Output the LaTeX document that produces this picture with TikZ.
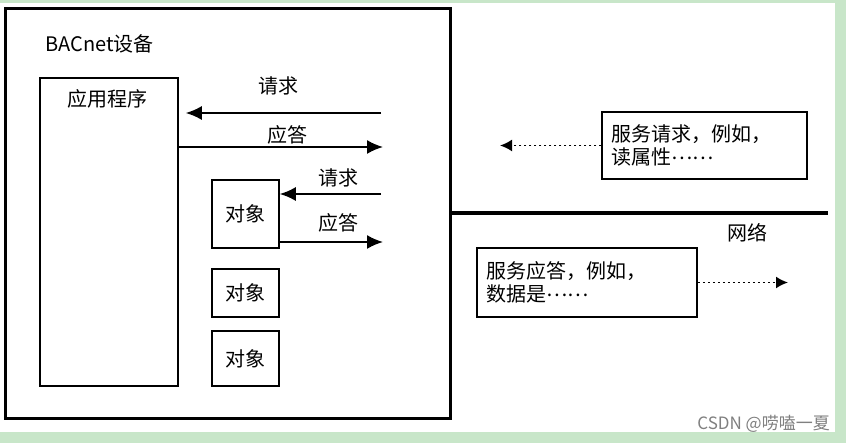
\documentclass[tikz,border=0pt]{standalone}
\usepackage{fontspec}
\setmainfont{Noto Sans CJK SC}
\usepackage{tikz}
\usetikzlibrary{shapes,arrows.meta,positioning}
\definecolor{bggreen}{RGB}{200,230,201}
\newcommand{\middots}{\smash{\raisebox{0.26em}{……}}}
\tikzstyle{devbox} = [draw, line width=3pt, inner sep=0pt]
\tikzstyle{box} = [draw, line width=1.5pt, inner sep=0pt, font=\fontsize{20}{24}\selectfont]
\tikzstyle{msgbox} = [draw, line width=1.5pt, inner sep=9pt, align=left, font=\fontsize{20}{23}\selectfont]
\tikzstyle{txt} = [inner sep=0pt, font=\fontsize{20}{24}\selectfont]
\tikzstyle{arr} = [draw, line width=1.8pt, -{Latex[length=16pt,width=14pt]}]
\tikzstyle{dotarr} = [draw, line width=1.8pt, dash pattern=on 2.5pt off 2.5pt, -{Latex[length=12pt,width=12pt]}]
\tikzstyle{net} = [draw, line width=4pt]

\begin{document}
\begin{tikzpicture}[x=1pt, y=-1pt]
	\fill [bggreen] (0,0) rectangle (846,443);
	\fill [white] (0,3) rectangle (835,432);
	\useasboundingbox (0,0) rectangle (846,443);

	\node [devbox, minimum width=444.5pt, minimum height=410pt] (device) at (227.75,213.5) {};
	\node [txt, anchor=west] (devname) at (45,44) {BACnet设备};
	\node [box, minimum width=138pt, minimum height=308pt] (app) at (109,232) {};
	\node [txt] (appname) at (107,99) {应用程序};
	\node [box, minimum width=67pt, minimum height=68pt] (obj1) at (245.5,214) {对象};
	\node [box, minimum width=67pt, minimum height=48pt] (obj2) at (245.5,293) {对象};
	\node [box, minimum width=67pt, minimum height=55pt] (obj3) at (245.5,358.5) {对象};

	\coordinate (req1) at (381,113);
	\coordinate (resp1) at (383,147);
	\coordinate (req2) at (381,194);
	\coordinate (resp2) at (383,242);
	\node [txt] (req1lbl) at (278,86) {请求};
	\node [txt] (resp1lbl) at (287,135) {应答};
	\node [txt] (req2lbl) at (338,178) {请求};
	\node [txt] (resp2lbl) at (338,223) {应答};

	\path [arr, shorten >=7pt] (req1) -- (req1 -| app.east);
	\path [arr] (resp1 -| app.east) -- (resp1);
	\path [arr] (req2) -- (req2 -| obj1.east);
	\path [arr] (resp2 -| obj1.east) -- (resp2);

	\coordinate (netend) at (828,213.5);
	\path [net] (device.east) -- (netend);
	\node [txt] (netlbl) at (747,233) {网络};

	\node [msgbox, text width=187pt, minimum height=67pt] (reqbox) at (704.5,145.5) {服务请求，例如，\\读属性\middots};
	\node [msgbox, text width=202pt, minimum height=69pt] (respbox) at (587,282.5) {服务应答，例如，\\数据是\middots};
	\coordinate (reqend) at (500,145.5);
	\coordinate (respend) at (788,282.5);
	\path [dotarr] (reqbox.west) -- (reqend);
	\path [dotarr] (respbox.east) -- (respend);

	\node [anchor=east, inner sep=0pt, text=gray, font=\fontsize{17}{20}\selectfont] (mark) at (830,424) {CSDN @唠嗑一夏};
\end{tikzpicture}
\end{document}
